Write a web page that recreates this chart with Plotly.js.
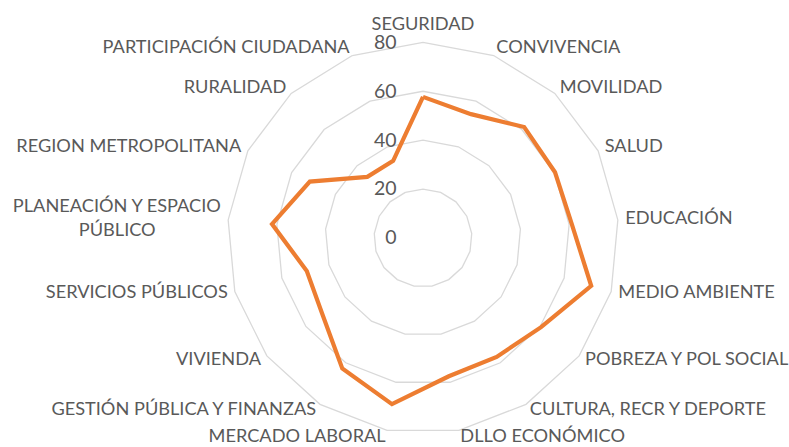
<!DOCTYPE html>
<html>
<head>
<meta charset="utf-8">
<script src="https://cdn.plot.ly/plotly-3.0.1.min.js"></script>
<style>html,body{margin:0;padding:0;background:#fff;}#chart{width:789px;height:447px;}</style>
</head>
<body>
<div id="chart"></div>
<script>
const categories = [
  "SEGURIDAD", "CONVIVENCIA", "MOVILIDAD", "SALUD", "EDUCACIÓN",
  "MEDIO AMBIENTE", "POBREZA Y POL SOCIAL", "CULTURA, RECR Y DEPORTE",
  "DLLO ECONÓMICO", "MERCADO LABORAL", "GESTIÓN PÚBLICA Y FINANZAS",
  "VIVIENDA", "SERVICIOS PÚBLICOS", "PLANEACIÓN Y ESPACIO PÚBLICO",
  "REGION METROPOLITANA", "RURALIDAD", "PARTICIPACIÓN CIUDADANA"
];
const categoryLabels = [
  "SEGURIDAD", "CONVIVENCIA", "MOVILIDAD", "SALUD", "EDUCACIÓN",
  "MEDIO AMBIENTE", "POBREZA Y POL SOCIAL", "CULTURA, RECR Y DEPORTE",
  "DLLO ECONÓMICO", "MERCADO LABORAL", "GESTIÓN PÚBLICA Y FINANZAS",
  "VIVIENDA", "SERVICIOS PÚBLICOS",
  "PLANEACIÓN Y ESPACIO<br>PÚBLICO" + "\u00a0".repeat(14),
  "REGION METROPOLITANA", "RURALIDAD", "PARTICIPACIÓN CIUDADANA"
];
const values = [57.7, 54.3, 61.4, 60.3, 61.1, 71.5, 60.5, 57.2, 57.5, 69.1, 62.7, 51.6, 49.4, 62, 51.7, 33.8, 33.8];
const radialTicks = [0, 20, 40, 60, 80];

const GRID_MAX = 80;
const RANGE_MAX = 83;   // category labels sit just outside the outer ring

const theta = categories.concat([categories[0]]);
const r = values.concat([values[0]]);

const FONT = "Lato, 'Open Sans', sans-serif";
const COLOR_TXT = '#595959';

const lineTrace = {
  type: 'scatterpolar',
  r: r,
  theta: theta,
  mode: 'lines',
  line: {color: '#ED7D31', width: 4.2},
  hoverinfo: 'skip',
  showlegend: false
};

const labelPositions = categories.map(function (c, i) {
  if (i === 0) return 'top center';
  return i <= 8 ? 'middle right' : 'middle left';
});

const labelTrace = {
  type: 'scatterpolar',
  r: categories.map(function () { return RANGE_MAX; }),
  theta: categories,
  mode: 'text',
  text: categoryLabels,
  textposition: labelPositions,
  textfont: {family: FONT, size: 18.2, color: COLOR_TXT},
  cliponaxis: false,
  hoverinfo: 'skip',
  showlegend: false
};

// outer radius (range max) = 196 * 83/80 px, centred at (423, 238)
const layout = {
  width: 789, height: 447,
  margin: {l: 219.65, r: 162.65, t: 34.65, b: 5.65, pad: 0},
  paper_bgcolor: '#fff',
  font: {family: FONT, size: 19, color: COLOR_TXT},
  polar: {
    domain: {x: [0, 1], y: [0, 1]},
    gridshape: 'linear',
    bgcolor: 'rgba(0,0,0,0)',
    radialaxis: {
      range: [0, RANGE_MAX],
      tickvals: radialTicks,
      angle: 90,
      side: 'counterclockwise',
      showline: false,
      gridcolor: '#D9D9D9',
      gridwidth: 1.3,
      ticks: 'outside',
      ticklen: 19,
      tickcolor: 'rgba(0,0,0,0)',
      tickangle: 90,
      tickfont: {family: FONT, size: 19.5, color: COLOR_TXT}
    },
    angularaxis: {
      type: 'category',
      categoryarray: categories,
      direction: 'clockwise',
      rotation: 90,
      showgrid: false,
      showline: false,
      ticks: '',
      showticklabels: false
    }
  }
};
Plotly.newPlot('chart', [lineTrace, labelTrace], layout, {displayModeBar: false, staticPlot: true});
</script>
</body>
</html>
